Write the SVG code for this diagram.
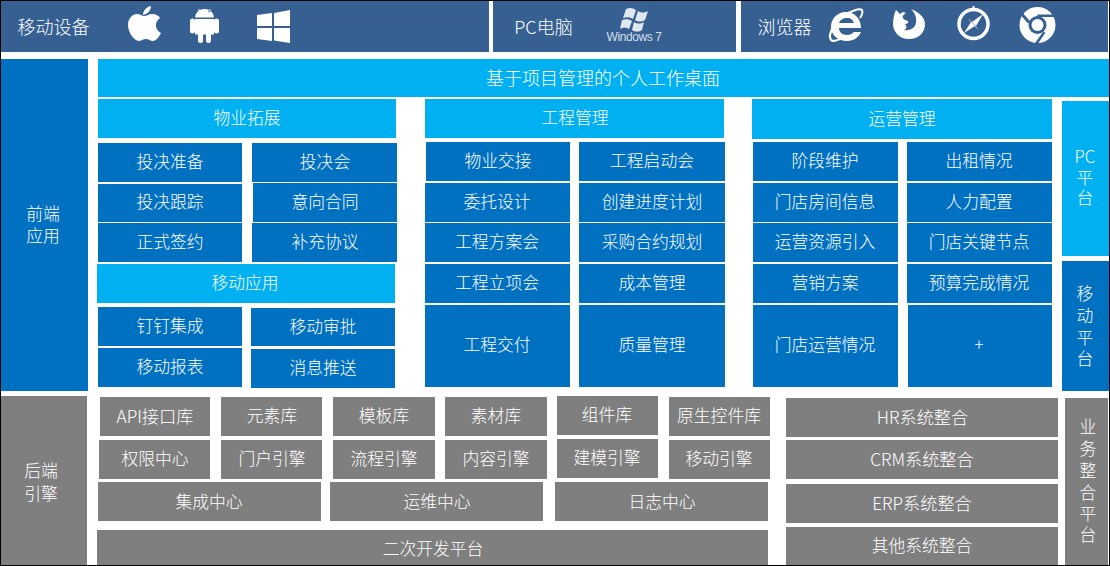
<svg xmlns="http://www.w3.org/2000/svg" width="1110" height="566" viewBox="0 0 1110 566">
<style>
text{font-family:"Noto Sans CJK SC","Liberation Sans",sans-serif;font-size:16.800px;font-weight:300;fill:#fff;text-anchor:middle;dominant-baseline:central;transform:translateY(-.8px)}
.l{font-size:18px}.w{font-size:17.200px}
.d{fill:#366092}.b{fill:#0070C0}.c{fill:#00B0F0}.g{fill:#7F7F7F}
.i{fill:#fff}.r{fill:none;stroke:#fff}
</style>
<rect width="1110" height="566" fill="#fff"/>
<g id="top-mobile"><rect class="d" x="1" y="1" width="488" height="51"/><text class="l" x="53.500" y="27">移动设备</text></g>
<g id="top-pc"><rect class="d" x="493" y="1" width="243" height="51"/><text class="l" x="543.500" y="27">PC电脑</text></g>
<g id="top-browser"><rect class="d" x="741" y="1" width="367" height="51"/><text class="l" x="784.500" y="27">浏览器</text></g>
<g id="icons">
<path class="i" d="M151 6c0 4-3 8-8 9 0-4 3-8 8-9zM144 16c3 0 5-2 8-2 4 0 7 2 8 4-6 4-5 12 1 15-2 4-5 8-8 8-3 0-4-2-7-2s-5 2-7 2c-5 0-11-9-11-16 0-8 6-11 9-11 3 0 5 2 7 2z"/>
<path class="i" d="M195 17.500a9.500 8.500 0 0 1 19 0zM199 9l2 3-1 .5-2-3zM210 9l-2 3 1 .5 2-3zM195 19h19v15.500h-3v6a2.500 2.500 0 0 1-5 0v-6h-3v6a2.500 2.500 0 0 1-5 0v-6h-3zM190 21a2.500 2.500 0 0 1 5 0v10a2.500 2.500 0 0 1-5 0zM214 21a2.500 2.500 0 0 1 5 0v10a2.500 2.500 0 0 1-5 0z"/>
<path class="i" d="M257 15l15-2v13h-15zM274 13l16-3v16h-16zM257 28h15v13l-15-2zM274 28h16v15l-16-2.500z"/>
<g id="win7"><path class="i" opacity=".85" d="M626 9c4-2 7-1 10 1l-3 9c-3-2-6-2-10-1zM638 11c3 2 6 2 10 0l-3 9c-3 2-7 2-10 0zM622 20c4-1 7-1 10 1l-3 8c-3-2-6-2-9 0zM634 22c3 2 7 2 10 0l-2 8c-3 2-7 2-10 0z"/><text x="634" y="38" style="font-family:'Liberation Sans',sans-serif;font-size:12px;letter-spacing:-.4px;fill:#d5dde8">Windows 7</text></g>
<g id="ie"><path class="i" fill-rule="evenodd" d="M846 12c9 0 15 7 15 16h-22c0 4 3 7 8 7 3 0 5-1 7-3h7c-2 5-7 9-14 9-9 0-16-6-16-14s6-15 15-15zM847 18c-4 0-7 2-8 5h15c-1-3-3-5-7-5z"/><path class="r" stroke-width="2" d="M834 25c-4 7-5 13-3 15 2 2 8 0 13-3M846 14c8-4 14-6 16-4 1 2 0 5-2 8"/></g>
<g id="firefox"><path class="i" fill-rule="evenodd" d="M896 10l4 4 3-2 3 1c-2 1-4 3-3 5 1 2 3 2 5 3 1 2-1 3-3 3 2 3 2 5-1 6 6 1 11-2 12-7 1-5-1-10-5-14 5 2 14 7 14 15 0 9-7 15-16 15-9 0-15-6-16-14 0-6 1-11 3-15z"/></g>
<g id="safari"><circle class="r" cx="973.500" cy="24" r="14.500" stroke-width="3.500"/><path class="i" d="M983 14l-7 12-4-4zM964 33l7-11 4 4z"/><path class="i" opacity=".7" d="M968 18l5 5 1 1 5 6-6-5-1-1z"/><path class="i" d="M972.500 6h2v4h-2z"/></g>
<g id="chrome"><circle class="i" cx="1037.500" cy="25" r="18"/><circle class="d" cx="1037.500" cy="25" r="9"/><circle class="i" cx="1037.500" cy="25" r="6"/><path class="d" d="M1037 17h18l1.500-2.500-19 0zM1030 21l-10-11-1.500 2.500 9.500 11zM1043 32l-8 11 3 .5 7.500-11z"/></g>
</g>
<g id="front"><rect class="b" x="1" y="59" width="87" height="332"/><text x="43" y="214">前端<tspan x="43" dy="22">应用</tspan></text></g>
<g id="desk"><rect class="c" x="98" y="59" width="1011" height="38"/><text class="l" x="603" y="78">基于项目管理的个人工作桌面</text></g>
<g id="h1"><rect class="c" x="98" y="99" width="298" height="39"/><text x="247" y="118">物业拓展</text></g>
<g id="h2"><rect class="c" x="425" y="99" width="299" height="39"/><text x="575" y="118">工程管理</text></g>
<g id="h3"><rect class="c" x="752" y="99" width="300" height="40"/><text x="902" y="119">运营管理</text></g>
<g id="a1"><rect class="b" x="98" y="143" width="144" height="39"/><text x="170" y="162">投决准备</text></g>
<g id="a2"><rect class="b" x="252" y="143" width="145" height="39"/><text x="325" y="162">投决会</text></g>
<g id="a3"><rect class="b" x="98" y="184" width="144" height="38"/><text x="170" y="202">投决跟踪</text></g>
<g id="a4"><rect class="b" x="253" y="183" width="144" height="39"/><text x="325" y="202">意向合同</text></g>
<g id="a5"><rect class="b" x="98" y="223" width="144" height="39"/><text x="170" y="242">正式签约</text></g>
<g id="a6"><rect class="b" x="252" y="223" width="145" height="39"/><text x="325" y="242">补充协议</text></g>
<g id="m0"><rect class="c" x="97" y="264" width="298" height="39"/><text x="245" y="283">移动应用</text></g>
<g id="m1"><rect class="b" x="98" y="307" width="144" height="39"/><text x="170" y="326">钉钉集成</text></g>
<g id="m2"><rect class="b" x="251" y="308" width="144" height="38"/><text x="323" y="327">移动审批</text></g>
<g id="m3"><rect class="b" x="98" y="348" width="144" height="39"/><text x="170" y="367">移动报表</text></g>
<g id="m4"><rect class="b" x="251" y="349" width="144" height="39"/><text x="323" y="368">消息推送</text></g>
<g id="b1"><rect class="b" x="426" y="142" width="144" height="39"/><text x="498" y="161">物业交接</text></g>
<g id="b2"><rect class="b" x="579" y="142" width="146" height="39"/><text x="652" y="161">工程启动会</text></g>
<g id="b3"><rect class="b" x="425" y="183" width="145" height="39"/><text x="497" y="202">委托设计</text></g>
<g id="b4"><rect class="b" x="579" y="183" width="146" height="39"/><text x="652" y="202">创建进度计划</text></g>
<g id="b5"><rect class="b" x="425" y="223" width="145" height="39"/><text x="497" y="242">工程方案会</text></g>
<g id="b6"><rect class="b" x="579" y="223" width="146" height="39"/><text x="652" y="242">采购合约规划</text></g>
<g id="b7"><rect class="b" x="425" y="264" width="145" height="39"/><text x="497" y="283">工程立项会</text></g>
<g id="b8"><rect class="b" x="579" y="264" width="146" height="39"/><text x="652" y="283">成本管理</text></g>
<g id="b9"><rect class="b" x="425" y="305" width="145" height="82"/><text x="497" y="345">工程交付</text></g>
<g id="b10"><rect class="b" x="579" y="305" width="146" height="82"/><text x="652" y="345">质量管理</text></g>
<g id="c1"><rect class="b" x="753" y="142" width="145" height="39"/><text x="825" y="161">阶段维护</text></g>
<g id="c2"><rect class="b" x="907" y="142" width="145" height="39"/><text x="979" y="161">出租情况</text></g>
<g id="c3"><rect class="b" x="753" y="183" width="145" height="39"/><text x="825" y="202">门店房间信息</text></g>
<g id="c4"><rect class="b" x="907" y="183" width="145" height="39"/><text x="979" y="202">人力配置</text></g>
<g id="c5"><rect class="b" x="753" y="223" width="145" height="39"/><text x="825" y="242">运营资源引入</text></g>
<g id="c6"><rect class="b" x="907" y="223" width="145" height="39"/><text x="979" y="242">门店关键节点</text></g>
<g id="c7"><rect class="b" x="753" y="264" width="145" height="39"/><text x="825" y="283">营销方案</text></g>
<g id="c8"><rect class="b" x="907" y="264" width="145" height="39"/><text x="979" y="283">预算完成情况</text></g>
<g id="c9"><rect class="b" x="753" y="305" width="145" height="82"/><text x="825" y="345">门店运营情况</text></g>
<g id="c10"><rect class="b" x="908" y="305" width="144" height="82"/><text x="979" y="345">+</text></g>
<g id="pc"><rect class="c" x="1062" y="101" width="47" height="155"/><text x="1085" y="157">PC<tspan x="1085" dy="20.500">平</tspan><tspan x="1085" dy="20.500">台</tspan></text></g>
<g id="mob"><rect class="b" x="1062" y="261" width="47" height="130"/><text x="1085" y="294">移<tspan x="1085" dy="22">动</tspan><tspan x="1085" dy="21.500">平</tspan><tspan x="1085" dy="21.500">台</tspan></text></g>
<g id="back"><rect class="g" x="1" y="396" width="86" height="169"/><text x="41" y="471">后端<tspan x="41" dy="23">引擎</tspan></text></g>
<g id="g1"><rect class="g" x="100" y="397" width="110" height="39"/><text class="w" x="155" y="416">API接口库</text></g>
<g id="g2"><rect class="g" x="221" y="397" width="101" height="39"/><text x="272" y="416">元素库</text></g>
<g id="g3"><rect class="g" x="333" y="397" width="102" height="39"/><text x="384" y="416">模板库</text></g>
<g id="g4"><rect class="g" x="445" y="397" width="102" height="39"/><text x="496" y="416">素材库</text></g>
<g id="g5"><rect class="g" x="557" y="396" width="101" height="39"/><text x="607" y="415">组件库</text></g>
<g id="g6"><rect class="g" x="669" y="397" width="101" height="39"/><text x="719" y="416">原生控件库</text></g>
<g id="g7"><rect class="g" x="99" y="440" width="111" height="39"/><text x="155" y="459">权限中心</text></g>
<g id="g8"><rect class="g" x="221" y="440" width="101" height="39"/><text x="272" y="459">门户引擎</text></g>
<g id="g9"><rect class="g" x="333" y="440" width="102" height="39"/><text x="384" y="459">流程引擎</text></g>
<g id="g10"><rect class="g" x="445" y="440" width="102" height="39"/><text x="496" y="459">内容引擎</text></g>
<g id="g11"><rect class="g" x="557" y="439" width="101" height="39"/><text x="607" y="458">建模引擎</text></g>
<g id="g12"><rect class="g" x="669" y="440" width="101" height="39"/><text x="719" y="459">移动引擎</text></g>
<g id="g13"><rect class="g" x="98" y="482" width="223" height="39"/><text x="209" y="502">集成中心</text></g>
<g id="g14"><rect class="g" x="330" y="482" width="213" height="39"/><text x="437" y="502">运维中心</text></g>
<g id="g15"><rect class="g" x="555" y="482" width="213" height="39"/><text x="662" y="502">日志中心</text></g>
<g id="g16"><rect class="g" x="97" y="530" width="671" height="35"/><text x="433" y="549">二次开发平台</text></g>
<g id="s1"><rect class="g" x="786" y="398" width="272" height="39"/><text class="w" x="922.500" y="417">HR系统整合</text></g>
<g id="s2"><rect class="g" x="786" y="440" width="272" height="39"/><text class="w" x="922" y="459">CRM系统整合</text></g>
<g id="s3"><rect class="g" x="786" y="484" width="272" height="39"/><text class="w" x="922" y="503">ERP系统整合</text></g>
<g id="s4"><rect class="g" x="786" y="527" width="272" height="38"/><text x="922" y="546">其他系统整合</text></g>
<g id="biz"><rect class="g" x="1065" y="398" width="43" height="167"/><text x="1088" y="427">业<tspan x="1088" dy="22">务</tspan><tspan x="1088" dy="22">整</tspan><tspan x="1088" dy="22">合</tspan><tspan x="1088" dy="21">平</tspan><tspan x="1088" dy="21">台</tspan></text></g>
<rect id="frame" x=".5" y=".5" width="1109" height="565" fill="none" stroke="#000"/>
</svg>
